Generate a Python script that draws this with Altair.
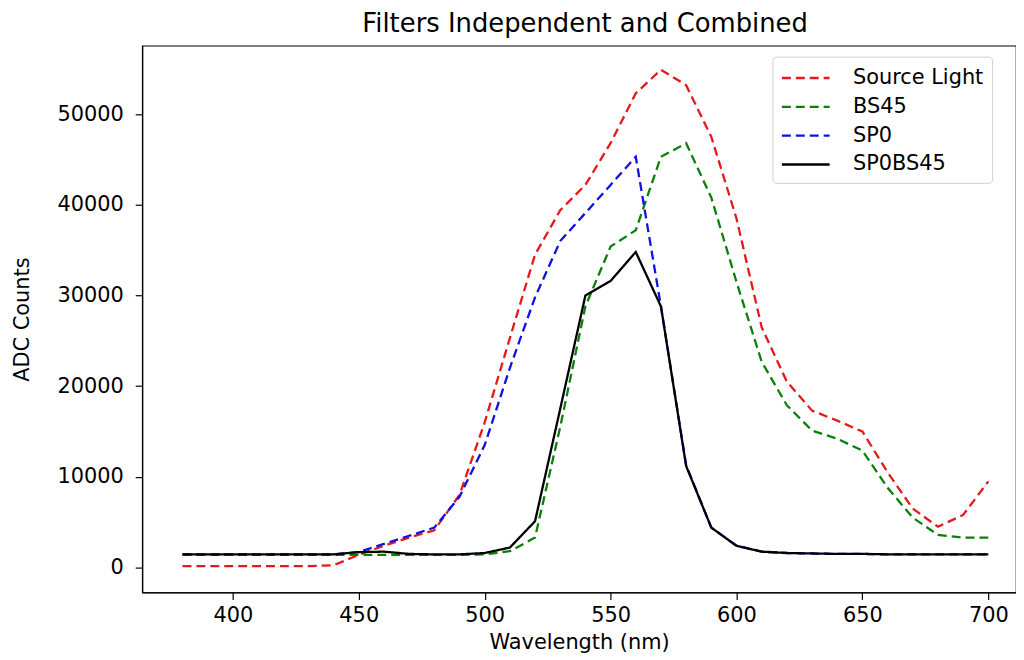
import altair as alt
import pandas as pd

wavelength = list(range(380, 701, 10))

source_light = [150, 150, 150, 150, 150, 150, 250, 1400, 2400, 3300, 4100, 8000, 16000,
                25300, 34500, 39400, 42200, 46800, 52300, 54900, 53200, 47500, 38500,
                26500, 20500, 17300, 16200, 15000, 10500, 6500, 4500, 5800, 9500]
bs45 = [1400, 1400, 1400, 1400, 1400, 1400, 1400, 1400, 1400, 1400, 1400, 1400, 1450,
        1800, 3300, 15500, 28800, 35400, 37200, 45300, 46800, 40800, 31500,
        22700, 17900, 15100, 14200, 12900, 8800, 5500, 3600, 3300, 3300]
sp0 = [1450, 1450, 1450, 1450, 1450, 1450, 1450, 1700, 2600, 3500, 4400, 7800, 13500,
       22000, 29800, 36000, 39100, 42200, 45300, 28800, 11300, 4400, 2400,
       1750, 1600, 1550, 1500, 1500, 1450, 1450, 1450, 1450, 1450]
sp0bs45 = [1450, 1450, 1450, 1450, 1450, 1450, 1450, 1700, 1750, 1500, 1450, 1450, 1600,
           2200, 5100, 17500, 30000, 31600, 34800, 28800, 11200, 4400, 2400,
           1750, 1600, 1550, 1500, 1500, 1450, 1450, 1450, 1450, 1450]

series_names = ["Source Light", "BS45", "SP0", "SP0BS45"]
series_values = [source_light, bs45, sp0, sp0bs45]
series_colors = ["#e31a1c", "#0a800a", "#1010e0", "#000000"]
series_dash = [[9, 5], [9, 5], [9, 5], [1, 0]]

rows = []
for name, vals in zip(series_names, series_values):
    for w, v in zip(wavelength, vals):
        rows.append({"Wavelength": w, "ADC": v, "Series": name})
df = pd.DataFrame(rows)

FONT = "DejaVu Sans"

x_enc = alt.X("Wavelength:Q",
              scale=alt.Scale(domain=[364, 711], nice=False, zero=False),
              axis=alt.Axis(title="Wavelength (nm)", values=[400, 450, 500, 550, 600, 650, 700]))
y_enc = alt.Y("ADC:Q",
              scale=alt.Scale(domain=[-2750, 57550], nice=False, zero=False),
              axis=alt.Axis(title="ADC Counts", values=[0, 10000, 20000, 30000, 40000, 50000],
                            format="d"))
color_enc = alt.Color("Series:N",
                      scale=alt.Scale(domain=series_names, range=series_colors),
                      legend=alt.Legend(title=None, orient="none", legendX=634, legendY=11,
                                        symbolType="M-1,0H3", symbolSize=576,
                                        symbolStrokeWidth=2.3, labelFontSize=21,
                                        labelFont=FONT, labelColor="black",
                                        labelOffset=46, rowPadding=5, padding=8,
                                        strokeColor="#d0d0d0", fillColor="white",
                                        cornerRadius=4))
dash_enc = alt.StrokeDash("Series:N",
                          scale=alt.Scale(domain=series_names, range=series_dash),
                          legend=None)

layers = []
for name in series_names:
    layers.append(
        alt.Chart(df).transform_filter(alt.datum.Series == name)
        .mark_line(strokeWidth=2.3)
        .encode(x=x_enc, y=y_enc, color=color_enc, strokeDash=dash_enc)
    )

chart = alt.layer(*layers).properties(
    width=879,
    height=550,
    padding={"left": 135, "top": 36, "right": 0, "bottom": 64},
    autosize=alt.AutoSizeParams(type="none"),
    title=alt.TitleParams("Filters Independent and Combined", font=FONT, fontSize=26,
                          fontWeight="normal", color="black", anchor="middle",
                          dx=6, offset=9),
    background="white",
).configure_axis(
    grid=False,
    domainColor="black",
    domainWidth=1.2,
    tickColor="black",
    tickSize=7,
    tickWidth=1.2,
    labelFont=FONT,
    labelFontSize=21,
    labelColor="black",
    titleFont=FONT,
    titleFontSize=21,
    titleFontWeight="normal",
    titleColor="black",
).configure_axisY(
    labelPadding=12,
    titlePadding=25,
).configure_axisX(
    labelPadding=5,
    titlePadding=6,
).configure_view(
    stroke="black",
    strokeWidth=1.2,
)

chart.save("out.html", embed_options={"renderer": "svg", "actions": False})
